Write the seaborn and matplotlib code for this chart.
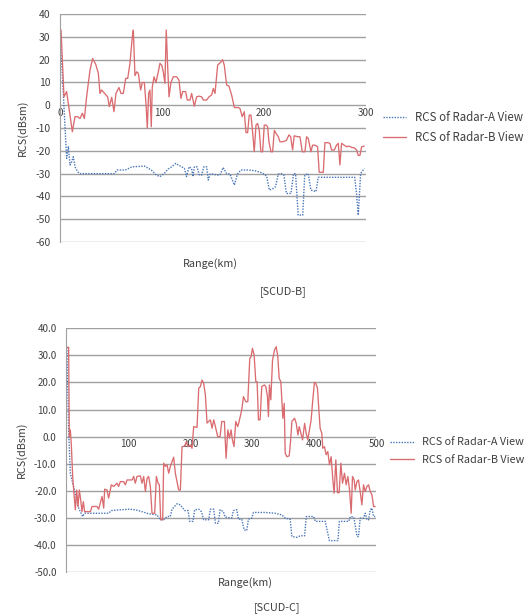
import numpy as np
import pandas as pd
import seaborn as sns
import matplotlib.pyplot as plt

# ---- SCUD-B (top) ----
b_radar_a_km = [0, 6.5, 8.2, 9.8, 11.4, 13, 14.7, 17.3, 19.6, 53.3, 56, 64, 70.6, 83, 89.5, 94.4,
                98, 102, 106, 109.5, 113.4, 116, 119.3, 122, 124, 126.5, 129, 130.4, 131.7, 134.3,
                136.6, 138.9, 141, 143.8, 145.4, 147.1, 150.3, 153.6, 156.9, 160, 163.4, 166.7,
                171, 174, 177.5, 184.6, 191, 197.8, 202.6, 205.3, 209, 211.4, 214, 217, 219.6,
                222, 226.5, 229, 231, 233.6, 238, 240, 243.5, 246, 251, 253.3, 289, 290.8, 292.5,
                294.8, 298.4]
b_radar_a_db = [33, -23.3, -18.2, -26.2, -24.8, -22.6, -27, -29.2, -30, -30, -28.4, -28.4, -27,
                -26.7, -28.4, -30.6, -31.3, -30, -28, -27, -25.5, -26.2, -27, -27.7, -31.3, -27,
                -27.7, -31.3, -27, -27, -30.6, -30.6, -27, -27, -32.8, -30.2, -30.2, -30.6, -30.6,
                -27.3, -30, -30.2, -35, -30.2, -28.4, -28.4, -28.7, -29.6, -31, -37.2, -36.5,
                -35.7, -30.2, -30, -30.6, -38.7, -38.7, -30, -30, -48.2, -48.2, -30.6, -30, -37.2,
                -37.9, -31.6, -31.6, -38.7, -48.2, -30, -27.7]

b_radar_b_km = [0, 1, 3.9, 6.5, 12.1, 14.7, 17.3, 19.6, 21.9, 23.9, 26.1, 29.4, 32, 35, 37.6, 39.2,
                40.8, 44.1, 46.7, 48.4, 50.7, 52.9, 54.9, 57.8, 59.8, 62.1, 64.4, 66.4, 68.6, 70.9,
                71.9, 73.5, 75.2, 76.8, 79.1, 80.7, 82.7, 84.3, 85.6, 86.9, 88.2, 89.5, 90.5, 92.2,
                94.1, 96.4, 98, 99.7, 101.3, 102.9, 104.2, 105.6, 106.9, 108.8, 111.1, 114.4,
                116.7, 118.6, 120.3, 123.2, 124.8, 127.5, 129.1, 131.7, 134, 136.3, 138.9, 140.5,
                143.8, 146.1, 148.7, 150.3, 152, 154.6, 157.8, 159.5, 161.1, 163.4, 165.7, 168.3,
                171, 174.8, 176.5, 178.7, 180.7, 182.4, 184, 185.6, 187.3, 189, 190.5, 192.2,
                193.8, 195.4, 197, 198.7, 200.3, 202, 203.6, 204.9, 206.9, 208.5, 210.2, 211.8,
                214.1, 215.7, 218, 220.6, 222.2, 224.5, 226.2, 228.1, 229.7, 233, 235.3, 237.6,
                240.2, 241.8, 243.5, 246.1, 247.7, 250, 252.6, 254.2, 258.2, 259.8, 262.4, 264.7,
                266.3, 269, 271.2, 272.9, 274.5, 276.1, 278.8, 281, 283.3, 286, 288.6, 290.8,
                292.5, 294.1, 295.8, 298.4]
b_radar_b_db = [33, 33, 3.7, 6, -11.6, -5, -5, -5.8, -3.5, -5.8, 3.7, 15.4, 20.5, 18, 14, 5.2, 6.7,
                5, 3.7, -0.6, 3.5, -2.8, 5.2, 7.8, 5.2, 5.2, 11.8, 11.8, 18.4, 30, 33, 13, 14.7, 14,
                6.7, 10, 10, 0.8, -10, 5.2, 6.7, -9.4, 8, 12.5, 10, 14.7, 18.4, 17.6, 14.7, 9.6, 33,
                16.8, 3.7, 10, 12.5, 12.5, 11, 3, 6, 6, 2.3, 2.3, 5.2, -0.4, 3.7, 4, 3.7, 2.3, 2.3,
                3.7, 4.5, 7.4, 5.2, 17.6, 19, 20, 17.6, 8.9, 8.4, 4.5, -1, -1, -1.4, -5, -2.8, -12,
                -12, -4.3, -4.3, -12.3, -20.4, -8.7, -8, -11, -20.4, -20.4, -8.7, -8.7, -9.4, -16,
                -20.4, -20.4, -11, -12.3, -13.8, -16, -16, -15.7, -15.3, -13, -13.8, -19.6, -13.4,
                -13.8, -13.8, -20.4, -20.4, -13.8, -14.6, -20.4, -17.5, -17.5, -18.2, -29.4, -29.4,
                -16.4, -16.4, -16.7, -19.6, -19.6, -17.5, -16.7, -26.2, -16.7, -17.5, -18.2, -17.9,
                -18.5, -18.7, -19.6, -22, -22, -18.2, -17.9]

# ---- SCUD-C (bottom) ----
c_radar_a_km = [1, 3.8, 6.5, 10.3, 14.6, 18.9, 22.6, 26.4, 29.6, 68.3, 72.6, 100.6, 111.3, 122,
                132.8, 146.2, 151.6, 157, 162.4, 167.7, 170.4, 178.5, 183.9, 190.9, 196.2, 199,
                204.3, 207, 213.5, 217.8, 221.5, 229.6, 232.3, 237.7, 240.4, 245.2, 247.9, 253.2,
                256, 266.8, 269.4, 274.8, 277.5, 282.9, 286.6, 290.9, 293.6, 299, 301.7, 320.5,
                336.6, 347.5, 352.9, 360.9, 363.7, 371.7, 377.1, 384.2, 386.9, 398.8, 401.5, 417.6,
                420.3, 424.1, 438, 440.2, 455.3, 458, 463.4, 466.1, 468.8, 471.1, 473.8, 479.2,
                481.9, 484.6, 487.3, 490, 492.7, 495.4, 498]
c_radar_a_db = [33, 2.5, -13.5, -17.2, -20.9, -25.8, -27.7, -29.5, -28.3, -28.3, -27.3, -26.8, -27,
                -27.7, -28.5, -28.9, -30.7, -30.7, -29.5, -29.5, -26.8, -24.8, -25.2, -27.3, -27.3,
                -31.3, -31.3, -27, -26.8, -27.7, -30.7, -30.7, -26.8, -26.8, -32, -32, -27, -27.7,
                -29.7, -30.1, -27.3, -27, -30.5, -30.5, -34.4, -34.7, -30.5, -30.1, -28, -28,
                -28.3, -28.9, -30.1, -30.5, -36.9, -37.2, -36.6, -36.6, -29.5, -29.5, -31.3, -31.3,
                -34.4, -38.4, -38.4, -31.3, -31.3, -29.5, -29.7, -33.2, -36.9, -36.9, -30.1, -30.1,
                -28.3, -30.7, -30.7, -27, -26.4, -29.5, -29.5]

c_radar_b_km = [1, 3.8, 4.9, 6.5, 8.1, 10.3, 12.4, 14.6, 16.7, 18.9, 21, 23.2, 25.3, 27.5, 29.6,
                33.4, 38.8, 41.5, 49.5, 52.2, 57.6, 60.3, 61.9, 65.6, 68.3, 72.6, 76.4, 81.8, 84.4,
                87.1, 92.5, 95.2, 97.9, 106, 108.7, 111.3, 114, 119.4, 122.1, 124.8, 127.5, 130.2,
                132.8, 135.5, 138.2, 142.5, 145.2, 147.9, 150, 152.2, 155.4, 157, 159.7, 162.4,
                165.1, 167.8, 173.1, 175.8, 181.2, 183.9, 186.6, 190.9, 193.5, 196.2, 200, 202.7,
                205.4, 210.8, 213.5, 216.2, 218.8, 221.5, 224.2, 226.9, 229.6, 232.3, 235, 237.7,
                240.4, 244.1, 247.9, 250.6, 254.9, 257.6, 260.4, 263, 265.6, 267.8, 270.4, 273.2,
                276.4, 278.6, 282.9, 285.6, 289.4, 292.6, 295.8, 298, 300.1, 302.8, 305.5, 307.6,
                309.8, 312.5, 315.1, 319.4, 321.6, 324.3, 325.9, 327.5, 329.7, 332.5, 335.7, 338.4,
                341, 343.2, 345.9, 347.5, 349.1, 351.3, 352.9, 355.6, 359.4, 361.5, 363.7, 368,
                370.7, 373.4, 375.5, 378.2, 380.9, 384.2, 386.7, 389.3, 392, 394.7, 397.4, 400.1,
                402.2, 404.9, 407.6, 409.2, 411.9, 413.5, 416.2, 418.9, 421.6, 424.3, 427, 429.7,
                431.8, 434.5, 437.2, 439.9, 442.6, 445.3, 448.5, 451.2, 453.9, 456.6, 459.3, 461.4,
                464.1, 465.8, 468.5, 471.1, 473.8, 476.5, 479.2, 481.9, 484.6, 487.3, 490, 492.7,
                495.4, 498]
c_radar_b_db = [33, 33, 0, 2.5, -3, -14.7, -21, -27, -19.7, -25.8, -19.7, -23.3, -27.7, -24, -27.7,
                -27.7, -27.7, -25.8, -25.8, -26.8, -22.1, -26.4, -19.4, -19.7, -22.7, -17.8, -18.4,
                -17.2, -18.4, -16.6, -16.6, -17.8, -16, -16, -14.7, -17.2, -14.7, -14.5, -17.2,
                -14.7, -20.3, -15.4, -14.7, -18.4, -28.3, -28.3, -14.7, -17.2, -17.8, -30.7, -30.7,
                -9.8, -11, -10.4, -13.5, -11, -7.6, -13.5, -19.7, -19.7, -3.7, -3.5, -1.8, -3.7,
                -3.1, -4.3, 3.7, 3.4, 17.9, 18.5, 20.9, 19.7, 15.4, 5, 5.6, 6.2, 3.1, 6.2, 3.7, 0, 0,
                5.6, 5.6, -8, 2.5, -0.6, 2.5, -1.2, -3.7, 5.6, 3.7, 5.6, 9.9, 14.8, 12.9, 12.9,
                28.9, 29.5, 32.6, 30.2, 20.3, 20.3, 6.2, 6.2, 18.5, 19.1, 18.5, 14.8, 7.4, 19.1,
                13.6, 28.3, 32, 33.2, 29.5, 21.5, 20.3, 13.6, 6.8, 12.3, -6.1, -7.4, -7.1, -1.8, 5.6,
                6.8, 4.9, 0.6, 3.7, 1.3, -1.2, 4.9, 1.3, -1.2, 2.5, 6.2, 13.6, 20.1, 19.7, 17.9, 8.6,
                3.1, 1.3, -4.3, -3.7, -6.7, -5.5, -10.4, -7.4, -16, -20.9, -8.6, -20.7, -20.7, -9.8,
                -17.2, -13.5, -17.8, -14.7, -19.7, -28.3, -14.7, -16, -19.7, -16.6, -16, -20.3,
                -25.2, -17.8, -20.3, -18.4, -17.8, -20.3, -21.5, -25.8, -25.8]

label_a = "RCS of Radar-A View"
label_b = "RCS of Radar-B View"

sns.set_style("white")
plt.rcParams['font.family'] = ['Noto Sans CJK KR', 'DejaVu Sans']

red = '#da6c70'
blue = '#4a76b8'
grid_c = '#a0a0a0'
text_c = '#404040'

fig = plt.figure(figsize=(5.32, 6.16), dpi=100)
ax1 = fig.add_axes([0.1128, 0.6071, 0.575, 0.370])
ax2 = fig.add_axes([0.1246, 0.0714, 0.583, 0.3956])


def draw(ax, a_km, a_db, b_km, b_db, xmax, xticks, ylim, yfmt, tsize):
    sns.lineplot(x=a_km, y=a_db, ax=ax, color=blue, lw=1.0, linestyle=(0, (1, 1)),
                 estimator=None, label=label_a)
    sns.lineplot(x=b_km, y=b_db, ax=ax, color=red, lw=0.95, estimator=None, label=label_b)
    ax.set_xlim(0, xmax)
    ax.set_ylim(*ylim)
    yt = np.arange(ylim[0], ylim[1] + 1, 10)
    ax.set_yticks(yt)
    ax.set_yticklabels([yfmt.format(v) for v in yt])
    ax.set_xticks(xticks)
    ax.set_xticklabels([str(t) for t in xticks])
    ax.grid(axis='y', color=grid_c, lw=1.0)
    ax.grid(axis='x', visible=False)
    for s in ['top', 'right', 'bottom']:
        ax.spines[s].set_visible(False)
    ax.spines['left'].set_color(grid_c)
    ax.spines['bottom'].set_position(('data', 0))
    ax.tick_params(axis='x', length=0, pad=2, labelsize=7, labelcolor=text_c)
    ax.tick_params(axis='y', length=0, pad=7, labelsize=tsize, labelcolor=text_c)
    ax.set_ylabel("RCS(dBsm)", fontsize=7.8, color=text_c, labelpad=5)
    ax.set_xlabel("Range(km)", fontsize=7.8, color=text_c)
    ax.get_legend().remove()


draw(ax1, b_radar_a_km, b_radar_a_db, b_radar_b_km, b_radar_b_db, 300, [0, 100, 200, 300],
     (-60, 40), "{:.0f}", 7.5)
draw(ax2, c_radar_a_km, c_radar_a_db, c_radar_b_km, c_radar_b_db, 500, [100, 200, 300, 400, 500],
     (-50, 40), "{:.1f}", 7)

ax1.xaxis.set_label_coords(0.49, -0.07)
ax2.xaxis.set_label_coords(0.576, -0.02)

h, l = ax1.get_legend_handles_labels()
fig.legend(h, l, loc='center left', bbox_to_anchor=(383 / 532, 1 - 127.5 / 616), frameon=False,
           fontsize=8.3, handlelength=2.0, handletextpad=0.75, labelspacing=0.6,
           borderpad=0, borderaxespad=0, labelcolor=text_c)
h, l = ax2.get_legend_handles_labels()
fig.legend(h, l, loc='center left', bbox_to_anchor=(390 / 532, 1 - 451 / 616), frameon=False,
           fontsize=7.8, handlelength=2.2, handletextpad=0.8, labelspacing=0.65,
           borderpad=0, borderaxespad=0, labelcolor=text_c)

fig.text(283 / 532, 1 - 292 / 616, "[SCUD-B]", ha='center', va='center', fontsize=7.8, color=text_c)
fig.text(277 / 532, 1 - 608 / 616, "[SCUD-C]", ha='center', va='center', fontsize=7.8, color=text_c)

fig.savefig("out.png", dpi=100, facecolor='white')
